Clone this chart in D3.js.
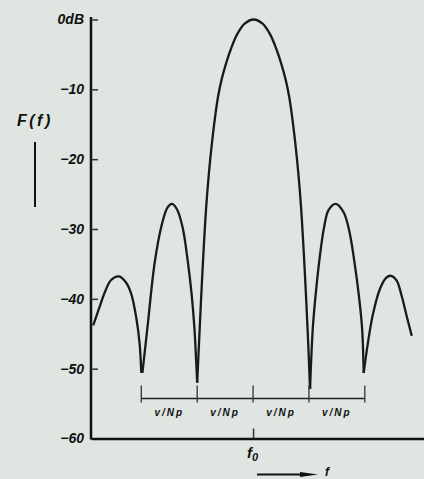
<!DOCTYPE html>
<html>
<head>
<meta charset="utf-8">
<script src="https://cdn.jsdelivr.net/npm/d3@7"></script>
<style>
  html, body { margin: 0; padding: 0; background: #dfe5e0; overflow: hidden; }
  svg text { font-family: "Liberation Sans", Arial, sans-serif; font-weight: bold; font-style: italic; fill: #111; }
</style>
</head>
<body>
<div id="plot"></div>
<script>
(function() {
"use strict";

// frequency offset from f0 in units of v/Np, and level in dB
const lobeOuterLeft = [[-2.86, -43.8], [-2.77, -41.7], [-2.64, -38.8], [-2.54, -37.3], [-2.40, -36.8],
  [-2.27, -37.7], [-2.18, -39.3], [-2.09, -42.7], [-2.03, -46.4], [-2.0, -50.6]];
const lobeSideLeft = [[-1.98, -50.6], [-1.89, -44.1], [-1.76, -34.8], [-1.64, -29.6], [-1.53, -26.9],
  [-1.45, -26.4], [-1.36, -27.2], [-1.26, -29.8], [-1.17, -34.5], [-1.10, -39.3], [-1.05, -44.1],
  [-1.02, -48.6], [-1.0, -52]];
const mainLobe = [[-1.0, -52], [-0.965, -46], [-0.93, -40], [-0.885, -33], [-0.84, -27], [-0.79, -22],
  [-0.74, -18], [-0.68, -14], [-0.625, -11], [-0.56, -8.5], [-0.48, -6.2], [-0.40, -4.3], [-0.29, -2.2],
  [-0.15, -0.6], [0.01, 0], [0.17, -0.6], [0.31, -2.2], [0.42, -4.3], [0.50, -6.2], [0.58, -8.5],
  [0.645, -11], [0.70, -14], [0.76, -18], [0.81, -22], [0.86, -27], [0.905, -33], [0.95, -40],
  [0.985, -46], [1.005, -50], [1.02, -52.9]];
const lobeSideRight = [[1.02, -52.9], [1.07, -44.1], [1.13, -38.6], [1.20, -33.6], [1.27, -29.8],
  [1.35, -27.3], [1.48, -26.4], [1.62, -27.6], [1.72, -30.2], [1.81, -34.5], [1.89, -39.3],
  [1.95, -44.1], [1.98, -50.6]];
const lobeOuterRight = [[1.98, -50.6], [2.05, -46.6], [2.14, -42.4], [2.27, -38.6], [2.38, -37.0],
  [2.47, -36.7], [2.57, -37.4], [2.66, -39.6], [2.75, -42.5], [2.84, -45.3]];

const yTicks = [0, -10, -20, -30, -40, -50, -60];
const yTickLabels = ["0dB", "\u221210", "\u221220", "\u221230", "\u221240", "\u221250", "\u221260"];
const bracketTicks = [-2, -1, 0, 1, 2];
const bracketLabels = ["v/Np", "v/Np", "v/Np", "v/Np"];

const WIDTH = 424;
const HEIGHT = 479;

const SVG = d3.select("#plot")
              .append("svg")
              .attr("width", WIDTH)
              .attr("height", HEIGHT);

const xScale = d3.scaleLinear()
                .domain([-2.9, 3.05])
                .range([91, 423.5]);

const yScale = d3.scaleLinear()
                .domain([-60, 0])
                .range([438.5, 19.5]);

// y axis, ticks pointing inward
const yAxis = d3.axisLeft(yScale)
                .tickValues(yTicks)
                .tickSizeInner(-7)
                .tickSizeOuter(0)
                .tickPadding(7)
                .tickFormat((d, i) => yTickLabels[i]);

const gy = SVG.append("g")
  .attr("id", "y-axis")
  .attr("transform", "translate(91, 0)")
  .call(yAxis);
gy.select(".domain").attr("stroke", "#111").attr("stroke-width", 2.5).attr("d", "M0,17V439.5");
gy.selectAll(".tick line").attr("stroke", "#333").attr("stroke-width", 1.5);
gy.selectAll(".tick line").filter(d => d === -60).remove();
gy.selectAll(".tick text").attr("font-size", 14).attr("fill", "#111");

// x axis with the single f0 tick
const xAxis = d3.axisBottom(xScale)
                .tickValues([0])
                .tickSizeInner(-10)
                .tickSizeOuter(0)
                .tickFormat("");

const gx = SVG.append("g")
  .attr("id", "x-axis")
  .attr("transform", "translate(0, 438.5)")
  .call(xAxis);
gx.select(".domain").attr("stroke", "#111").attr("stroke-width", 2.5);
gx.selectAll(".tick line").attr("stroke", "#333").attr("stroke-width", 1.5);

const f0 = SVG.append("text")
  .attr("x", xScale(0) - 6)
  .attr("y", 458)
  .attr("font-size", 15);
f0.append("tspan").text("f");
f0.append("tspan").attr("font-size", 11).attr("dy", 3).text("0");

// F(f) label and bar
SVG.append("text")
  .attr("x", 17)
  .attr("y", 126)
  .attr("font-size", 16)
  .attr("letter-spacing", 2.5)
  .text("F(f)");

SVG.append("line")
  .attr("x1", 35).attr("x2", 35)
  .attr("y1", 142).attr("y2", 207)
  .attr("stroke", "#111")
  .attr("stroke-width", 2);

// response curve, one path per lobe so the nulls stay sharp
const line = d3.line()
  .x(d => xScale(d[0]))
  .y(d => yScale(d[1]))
  .curve(d3.curveCatmullRom.alpha(0.5));

SVG.selectAll("path.lobe")
  .data([lobeOuterLeft, lobeSideLeft, mainLobe, lobeSideRight, lobeOuterRight])
  .enter()
  .append("path")
    .attr("class", "lobe")
    .attr("d", line)
    .attr("fill", "none")
    .attr("stroke", "#1a1a1a")
    .attr("stroke-width", 2.3)
    .attr("stroke-linejoin", "round");

// v/Np bracket
const BRACKET_Y = 398.5;
SVG.append("line")
  .attr("x1", xScale(-2)).attr("x2", xScale(2))
  .attr("y1", BRACKET_Y).attr("y2", BRACKET_Y)
  .attr("stroke", "#222")
  .attr("stroke-width", 1.5);

SVG.selectAll("line.btick")
  .data(bracketTicks)
  .enter()
  .append("line")
    .attr("class", "btick")
    .attr("x1", d => xScale(d)).attr("x2", d => xScale(d))
    .attr("y1", BRACKET_Y - 13).attr("y2", BRACKET_Y + 4)
    .attr("stroke", "#333")
    .attr("stroke-width", 1.3);

SVG.selectAll("text.blabel")
  .data(bracketLabels)
  .enter()
  .append("text")
    .attr("class", "blabel")
    .attr("x", (d, i) => xScale((bracketTicks[i] + bracketTicks[i + 1]) / 2))
    .attr("y", 416)
    .attr("text-anchor", "middle")
    .attr("font-size", 10)
    .attr("letter-spacing", 2)
    .text(d => d);

// frequency arrow at the bottom
SVG.append("line")
  .attr("x1", 257).attr("x2", 306)
  .attr("y1", 474.5).attr("y2", 474.5)
  .attr("stroke", "#111")
  .attr("stroke-width", 2);
SVG.append("path")
  .attr("d", "M300,472L318,474.5L300,477Z")
  .attr("fill", "#111");
SVG.append("text")
  .attr("x", 325)
  .attr("y", 476)
  .attr("font-size", 12)
  .text("f");

})();
</script>
</body>
</html>
